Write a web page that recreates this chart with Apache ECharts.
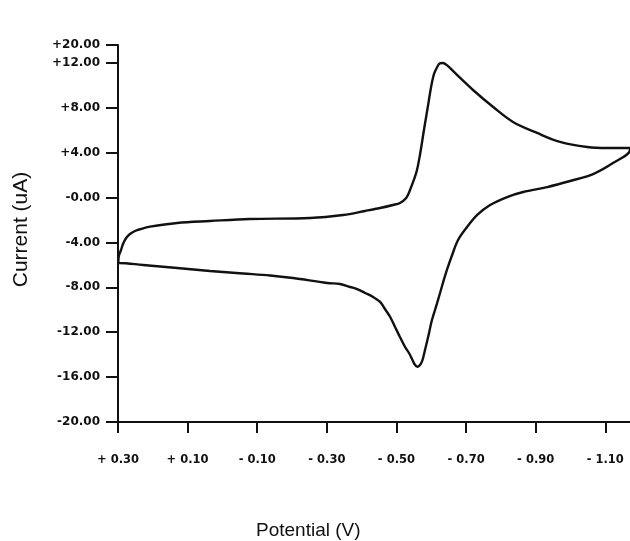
<!DOCTYPE html>
<html>
<head>
<meta charset="utf-8">
<script src="https://cdn.jsdelivr.net/npm/echarts@6/dist/echarts.min.js"></script>
<style>
html,body{margin:0;padding:0;background:#fff;}
#chart{width:630px;height:541px;}
</style>
</head>
<body>
<div id="chart"></div>
<script>
// Forward (upper) branch: potential (V) and current (uA), left to right
var potentialUp = [0.299, 0.2977, 0.2914, 0.2848, 0.275, 0.2655, 0.2511, 0.2368, 0.208, 0.130, 0.036, -0.079, -0.252, -0.347, -0.410, -0.453, -0.490, -0.510, -0.528, -0.539, -0.551, -0.559, -0.568, -0.579, -0.591, -0.599, -0.608, -0.617, -0.624, -0.633, -0.645, -0.674, -0.720, -0.778, -0.835, -0.904, -0.970, -1.048, -1.105, -1.171];
var currentUp   = [-5.83, -5.21, -4.67, -4.07, -3.54, -3.24, -2.98, -2.82, -2.59, -2.26, -2.09, -1.91, -1.82, -1.55, -1.19, -0.93, -0.66, -0.48, -0.04, 0.68, 1.66, 2.46, 3.89, 6.02, 8.25, 9.77, 11.02, 11.64, 11.95, 12.00, 11.80, 10.93, 9.59, 8.07, 6.74, 5.76, 4.96, 4.51, 4.42, 4.42];
// Return (lower) branch: right to left
var potentialDown = [-1.171, -1.122, -1.065, -0.999, -0.933, -0.864, -0.818, -0.769, -0.732, -0.703, -0.677, -0.660, -0.645, -0.631, -0.617, -0.602, -0.591, -0.582, -0.574, -0.567, -0.560, -0.552, -0.545, -0.536, -0.525, -0.510, -0.496, -0.482, -0.467, -0.453, -0.433, -0.410, -0.387, -0.367, -0.338, -0.301, -0.203, -0.137, -0.059, 0.036, 0.130, 0.228, 0.297, 0.299];
var currentDown   = [4.24, 3.08, 2.10, 1.48, 0.94, 0.50, 0.05, -0.66, -1.55, -2.62, -3.78, -5.12, -6.45, -7.88, -9.39, -10.91, -12.42, -13.58, -14.56, -14.95, -15.08, -14.85, -14.40, -13.85, -13.32, -12.42, -11.53, -10.64, -9.93, -9.30, -8.86, -8.50, -8.15, -7.97, -7.70, -7.61, -7.17, -6.94, -6.76, -6.54, -6.27, -6.01, -5.83, -5.83];

var xTickValues = [0.30, 0.10, -0.10, -0.30, -0.50, -0.70, -0.90, -1.10];
var xTickLabels = ['+ 0.30', '+ 0.10', '- 0.10', '- 0.30', '- 0.50', '- 0.70', '- 0.90', '- 1.10'];
var yTickValues = [-20, -16, -12, -8, -4, 0, 4, 8, 12, 13.6];
var yTickLabels = ['-20.00', '-16.00', '-12.00', '-8.00', '-4.00', '-0.00', '+4.00', '+8.00', '+12.00', '+20.00'];
var xRange = [-1.171, 0.30];
var yRange = [-20, 13.6];

function lookup(vals, labels, v) {
  var best = 0, bd = Infinity;
  for (var i = 0; i < vals.length; i++) {
    var d = Math.abs(vals[i] - v);
    if (d < bd) { bd = d; best = i; }
  }
  return labels[best];
}

var loop = [];
for (var i = 0; i < potentialUp.length; i++) loop.push([potentialUp[i], currentUp[i]]);
for (var j = 0; j < potentialDown.length; j++) loop.push([potentialDown[j], currentDown[j]]);

var ink = '#111';
var chart = echarts.init(document.getElementById('chart'), null, {renderer: 'canvas'});
chart.setOption({
  animation: false,
  backgroundColor: '#fff',
  title: {
    text: 'Potential (V)',
    left: 251,
    top: 516,
    textStyle: {fontFamily: 'Liberation Sans', fontSize: 19, fontWeight: 'normal', color: ink}
  },
  grid: {left: 118, right: 0, top: 45, bottom: 119, containLabel: false},
  xAxis: {
    type: 'value',
    inverse: true,
    min: xRange[0],
    max: xRange[1],
    axisLine: {onZero: false, lineStyle: {color: ink, width: 2}},
    axisTick: {show: true, length: 11, customValues: xTickValues, lineStyle: {color: ink, width: 2}},
    axisLabel: {
      customValues: xTickValues,
      margin: 32,
      fontFamily: 'DejaVu Sans',
      fontWeight: 'bold',
      fontSize: 11.5,
      color: ink,
      formatter: function (v) { return lookup(xTickValues, xTickLabels, v); }
    },
    splitLine: {show: false}
  },
  yAxis: {
    type: 'value',
    min: yRange[0],
    max: yRange[1],
    name: 'Current (uA)',
    nameLocation: 'middle',
    nameGap: 86,
    nameTextStyle: {fontFamily: 'Liberation Sans', fontSize: 21, color: ink, padding: [0, 0, 0, 8]},
    axisLine: {onZero: false, lineStyle: {color: ink, width: 2}},
    axisTick: {show: true, length: 12, customValues: yTickValues, lineStyle: {color: ink, width: 2}},
    axisLabel: {
      customValues: yTickValues,
      margin: 18,
      fontFamily: 'DejaVu Sans',
      fontWeight: 'bold',
      fontSize: 12,
      color: ink,
      formatter: function (v) { return lookup(yTickValues, yTickLabels, v); }
    },
    splitLine: {show: false}
  },
  series: [{
    type: 'line',
    data: loop,
    showSymbol: false,
    smooth: 0.35,
    clip: true,
    lineStyle: {color: ink, width: 2.4}
  }]
});
</script>
</body>
</html>
